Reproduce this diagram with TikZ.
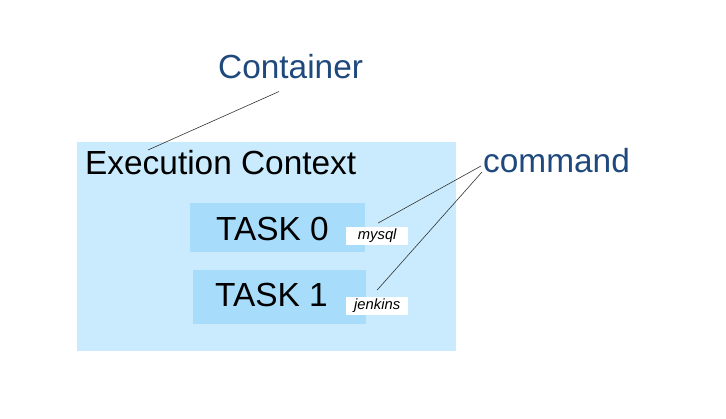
\documentclass[tikz,border=0pt]{standalone}
\usepackage{fontspec}
\setmainfont{Liberation Sans}
\usetikzlibrary{calc}
\definecolor{ctxblue}{HTML}{C9EBFD}
\definecolor{taskblue}{HTML}{A7DDFB}
\definecolor{labelblue}{HTML}{1F497D}
\newcommand{\bigfont}{\fontsize{33.4}{40}\selectfont}
\newcommand{\smallfont}{\fontsize{14.8}{17}\selectfont\itshape}
\tikzset{
  area/.style={fill=#1, draw=none, inner sep=0pt, anchor=north west},
  bigtext/.style={font=\bigfont, inner sep=0pt, anchor=base west},
  cmdbox/.style={fill=white, draw=none, inner sep=0pt, anchor=north west,
    minimum width=62pt, minimum height=18pt, font=\smallfont,
    text height=10.5pt, text depth=3.5pt},
  pointer/.style={draw=black!80, line width=0.6pt}
}

\begin{document}
\begin{tikzpicture}[x=1pt, y=-1pt]
        \useasboundingbox (0,0) rectangle (726,419);
        % background boxes
        \node[area=ctxblue, minimum width=379pt, minimum height=209pt] (ctx) at (77,142) {};
        \node[area=taskblue, minimum width=175pt, minimum height=49pt] (box0) at (190,203) {};
        \node[area=taskblue, minimum width=173pt, minimum height=54pt] (box1) at (193,270) {};
        % labels
        \node[bigtext, text=labelblue] (container) at (218,79) {Container};
        \node[bigtext] (context) at (85,175) {Execution Context};
        \node[bigtext, text=labelblue] (command) at (483,173) {command};
        \node[bigtext] (task0) at (216,241) {TASK 0};
        \node[bigtext] (task1) at (215,307) {TASK 1};
        % commands
        \node[cmdbox] (mysql) at (346,227) {mysql};
        \node[cmdbox] (jenkins) at (346,297) {jenkins};
        % pointer ends
        \coordinate (cstart) at ($(container.south west)+(61,12)$);
        \coordinate (cend) at (148,150);
        \coordinate (k0) at (481,166);
        \coordinate (k1) at (482,172);
        \coordinate (m0) at ($(mysql.north)+(1,-4)$);
        \coordinate (m1) at ($(jenkins.north)+(0,-7)$);
        \draw[pointer] (cstart) -- (cend);
        \draw[pointer] (k0) -- (m0);
        \draw[pointer] (k1) -- (m1);
\end{tikzpicture}
\end{document}
